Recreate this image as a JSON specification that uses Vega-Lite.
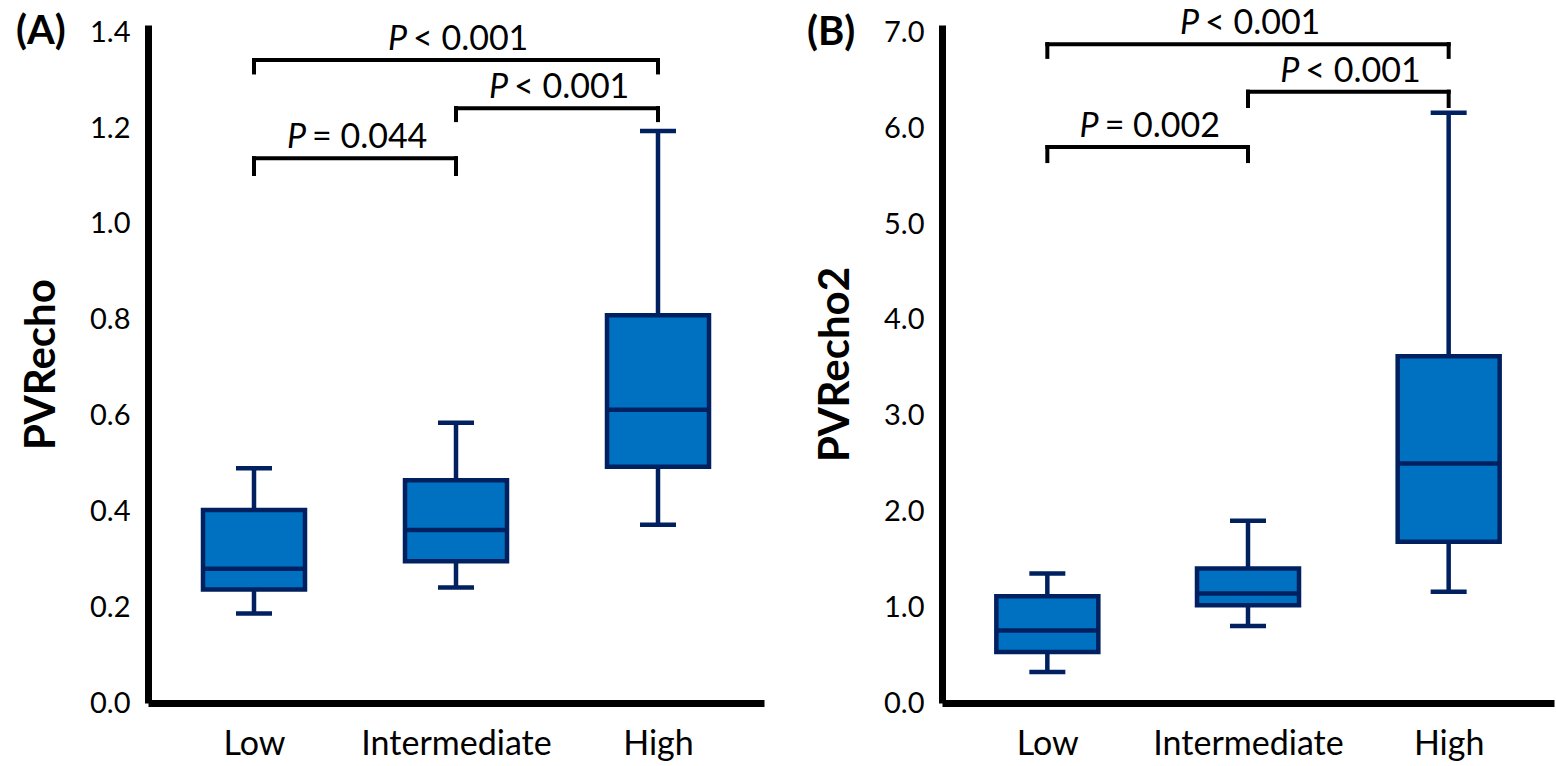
{
  "$schema": "https://vega.github.io/schema/vega-lite/v6.json",
  "background": "white",
  "padding": {"left": 16, "top": 7, "right": 2, "bottom": 2},
  "spacing": 43,
  "config": {
    "font": "Lato",
    "view": {"stroke": null},
    "axis": {"grid": false, "ticks": false, "tickSize": 0, "domainColor": "black", "domainWidth": 7, "labelColor": "black", "labelFont": "Lato", "titleColor": "black", "titleFont": "Lato", "labelLimit": 0}
  },
  "datasets": {
    "boxesA": [
      {"group": "Low", "rank": 0, "min": 0.187, "q1": 0.237, "median": 0.280, "q3": 0.403, "max": 0.490},
      {"group": "Intermediate", "rank": 1, "min": 0.241, "q1": 0.296, "median": 0.361, "q3": 0.465, "max": 0.585},
      {"group": "High", "rank": 2, "min": 0.372, "q1": 0.493, "median": 0.612, "q3": 0.809, "max": 1.194}
    ],
    "boxesB": [
      {"group": "Low", "rank": 0, "min": 0.324, "q1": 0.533, "median": 0.756, "q3": 1.116, "max": 1.353},
      {"group": "Intermediate", "rank": 1, "min": 0.805, "q1": 1.022, "median": 1.143, "q3": 1.405, "max": 1.904},
      {"group": "High", "rank": 2, "min": 1.161, "q1": 1.684, "median": 2.50, "q3": 3.62, "max": 6.164}
    ],
    "bracketsA": [
      {"from": 0, "to": 1, "mid": 0.5, "y": 1.137, "yleg": 1.104, "stat": "= 0.044"},
      {"from": 1, "to": 2, "mid": 1.5, "y": 1.2415, "yleg": 1.2165, "stat": "< 0.001"},
      {"from": 0, "to": 2, "mid": 1.0, "y": 1.3418, "yleg": 1.316, "stat": "< 0.001"}
    ],
    "bracketsB": [
      {"from": 0, "to": 1, "mid": 0.5, "y": 5.805, "yleg": 5.659, "stat": "= 0.002"},
      {"from": 1, "to": 2, "mid": 1.5, "y": 6.384, "yleg": 6.234, "stat": "< 0.001"},
      {"from": 0, "to": 2, "mid": 1.0, "y": 6.880, "yleg": 6.747, "stat": "< 0.001"}
    ],
    "panelA": [{"panel": "(A)", "xorigin": -0.5, "ytop": 1.4}],
    "panelB": [{"panel": "(B)", "xorigin": -0.5, "ytop": 7.0}]
  },
  "hconcat": [
    {
      "width": 616,
      "height": 678,
      "layer": [
        {
          "data": {"name": "boxesA"},
          "mark": {"type": "rule", "color": "#002060", "strokeWidth": 4.5},
          "encoding": {
            "x": {"field": "rank", "type": "quantitative", "scale": {"domain": [-0.5, 2.5], "nice": false, "zero": false},
                  "axis": {"values": [0, 1, 2], "labelExpr": "datum.value == 0 ? 'Low' : datum.value == 1 ? 'Intermediate' : 'High'", "title": null, "labelFontSize": 34, "labelPadding": 24, "labelLimit": 0}},
            "y": {"field": "min", "type": "quantitative", "scale": {"domain": [0, 1.415], "nice": false},
                  "axis": {"values": [0, 0.2, 0.4, 0.6, 0.8, 1.0, 1.2, 1.4], "format": ".1f", "title": "PVRecho", "titleFontSize": 42, "titleFontWeight": "bold", "labelFontSize": 29, "labelPadding": 18, "titlePadding": 26}},
            "y2": {"field": "max"}
          }
        },
        {
          "data": {"name": "boxesA"},
          "mark": {"type": "tick", "orient": "horizontal", "color": "#002060", "size": 36, "thickness": 4.5, "opacity": 1},
          "encoding": {"x": {"field": "rank", "type": "quantitative"}, "y": {"field": "min", "type": "quantitative"}}
        },
        {
          "data": {"name": "boxesA"},
          "mark": {"type": "tick", "orient": "horizontal", "color": "#002060", "size": 36, "thickness": 4.5, "opacity": 1},
          "encoding": {"x": {"field": "rank", "type": "quantitative"}, "y": {"field": "max", "type": "quantitative"}}
        },
        {
          "data": {"name": "boxesA"},
          "mark": {"type": "bar", "orient": "vertical", "size": 102, "fill": "#0070C0", "stroke": "#002060", "strokeWidth": 4.5, "strokeJoin": "miter"},
          "encoding": {"x": {"field": "rank", "type": "quantitative"}, "y": {"field": "q1", "type": "quantitative"}, "y2": {"field": "q3"}}
        },
        {
          "data": {"name": "boxesA"},
          "mark": {"type": "tick", "orient": "horizontal", "color": "#002060", "size": 100, "thickness": 4.5, "opacity": 1},
          "encoding": {"x": {"field": "rank", "type": "quantitative"}, "y": {"field": "median", "type": "quantitative"}}
        },
        {
          "data": {"name": "bracketsA"},
          "mark": {"type": "rule", "color": "black", "strokeWidth": 4, "strokeCap": "square"},
          "encoding": {"x": {"field": "from", "type": "quantitative"}, "x2": {"field": "to"}, "y": {"field": "y", "type": "quantitative"}}
        },
        {
          "data": {"name": "bracketsA"},
          "mark": {"type": "rule", "color": "black", "strokeWidth": 4, "strokeCap": "square"},
          "encoding": {"x": {"field": "from", "type": "quantitative"}, "y": {"field": "y", "type": "quantitative"}, "y2": {"field": "yleg"}}
        },
        {
          "data": {"name": "bracketsA"},
          "mark": {"type": "rule", "color": "black", "strokeWidth": 4, "strokeCap": "square"},
          "encoding": {"x": {"field": "to", "type": "quantitative"}, "y": {"field": "y", "type": "quantitative"}, "y2": {"field": "yleg"}}
        },
        {
          "data": {"name": "bracketsA"},
          "mark": {"type": "text", "fontSize": 34, "fontStyle": "italic", "align": "right", "baseline": "alphabetic", "dx": -49, "dy": -10, "color": "black"},
          "encoding": {"x": {"field": "mid", "type": "quantitative"}, "y": {"field": "y", "type": "quantitative"}, "text": {"value": "P"}}
        },
        {
          "data": {"name": "bracketsA"},
          "mark": {"type": "text", "fontSize": 34, "align": "left", "baseline": "alphabetic", "dx": -43, "dy": -10, "color": "black"},
          "encoding": {"x": {"field": "mid", "type": "quantitative"}, "y": {"field": "y", "type": "quantitative"}, "text": {"field": "stat"}}
        },
        {
          "data": {"name": "panelA"},
          "mark": {"type": "text", "fontSize": 40, "fontWeight": "bold", "align": "left", "baseline": "middle", "dx": -137, "color": "black"},
          "encoding": {"x": {"field": "xorigin", "type": "quantitative"}, "y": {"field": "ytop", "type": "quantitative"}, "text": {"field": "panel"}}
        }
      ]
    },
    {
      "width": 612,
      "height": 678,
      "layer": [
        {
          "data": {"name": "boxesB"},
          "mark": {"type": "rule", "color": "#002060", "strokeWidth": 4.5},
          "encoding": {
            "x": {"field": "rank", "type": "quantitative", "scale": {"domain": [-0.5, 2.5], "nice": false, "zero": false},
                  "axis": {"values": [0, 1, 2], "labelExpr": "datum.value == 0 ? 'Low' : datum.value == 1 ? 'Intermediate' : 'High'", "title": null, "labelFontSize": 34, "labelPadding": 24, "labelLimit": 0}},
            "y": {"field": "min", "type": "quantitative", "scale": {"domain": [0, 7.08], "nice": false},
                  "axis": {"values": [0, 1, 2, 3, 4, 5, 6, 7], "format": ".1f", "title": "PVRecho2", "titleFontSize": 42, "titleFontWeight": "bold", "labelFontSize": 29, "labelPadding": 18, "titlePadding": 26}},
            "y2": {"field": "max"}
          }
        },
        {
          "data": {"name": "boxesB"},
          "mark": {"type": "tick", "orient": "horizontal", "color": "#002060", "size": 36, "thickness": 4.5, "opacity": 1},
          "encoding": {"x": {"field": "rank", "type": "quantitative"}, "y": {"field": "min", "type": "quantitative"}}
        },
        {
          "data": {"name": "boxesB"},
          "mark": {"type": "tick", "orient": "horizontal", "color": "#002060", "size": 36, "thickness": 4.5, "opacity": 1},
          "encoding": {"x": {"field": "rank", "type": "quantitative"}, "y": {"field": "max", "type": "quantitative"}}
        },
        {
          "data": {"name": "boxesB"},
          "mark": {"type": "bar", "orient": "vertical", "size": 102, "fill": "#0070C0", "stroke": "#002060", "strokeWidth": 4.5, "strokeJoin": "miter"},
          "encoding": {"x": {"field": "rank", "type": "quantitative"}, "y": {"field": "q1", "type": "quantitative"}, "y2": {"field": "q3"}}
        },
        {
          "data": {"name": "boxesB"},
          "mark": {"type": "tick", "orient": "horizontal", "color": "#002060", "size": 100, "thickness": 4.5, "opacity": 1},
          "encoding": {"x": {"field": "rank", "type": "quantitative"}, "y": {"field": "median", "type": "quantitative"}}
        },
        {
          "data": {"name": "bracketsB"},
          "mark": {"type": "rule", "color": "black", "strokeWidth": 4, "strokeCap": "square"},
          "encoding": {"x": {"field": "from", "type": "quantitative"}, "x2": {"field": "to"}, "y": {"field": "y", "type": "quantitative"}}
        },
        {
          "data": {"name": "bracketsB"},
          "mark": {"type": "rule", "color": "black", "strokeWidth": 4, "strokeCap": "square"},
          "encoding": {"x": {"field": "from", "type": "quantitative"}, "y": {"field": "y", "type": "quantitative"}, "y2": {"field": "yleg"}}
        },
        {
          "data": {"name": "bracketsB"},
          "mark": {"type": "rule", "color": "black", "strokeWidth": 4, "strokeCap": "square"},
          "encoding": {"x": {"field": "to", "type": "quantitative"}, "y": {"field": "y", "type": "quantitative"}, "y2": {"field": "yleg"}}
        },
        {
          "data": {"name": "bracketsB"},
          "mark": {"type": "text", "fontSize": 34, "fontStyle": "italic", "align": "right", "baseline": "alphabetic", "dx": -49, "dy": -10, "color": "black"},
          "encoding": {"x": {"field": "mid", "type": "quantitative"}, "y": {"field": "y", "type": "quantitative"}, "text": {"value": "P"}}
        },
        {
          "data": {"name": "bracketsB"},
          "mark": {"type": "text", "fontSize": 34, "align": "left", "baseline": "alphabetic", "dx": -43, "dy": -10, "color": "black"},
          "encoding": {"x": {"field": "mid", "type": "quantitative"}, "y": {"field": "y", "type": "quantitative"}, "text": {"field": "stat"}}
        },
        {
          "data": {"name": "panelB"},
          "mark": {"type": "text", "fontSize": 40, "fontWeight": "bold", "align": "left", "baseline": "middle", "dx": -140, "color": "black"},
          "encoding": {"x": {"field": "xorigin", "type": "quantitative"}, "y": {"field": "ytop", "type": "quantitative"}, "text": {"field": "panel"}}
        }
      ]
    }
  ]
}
